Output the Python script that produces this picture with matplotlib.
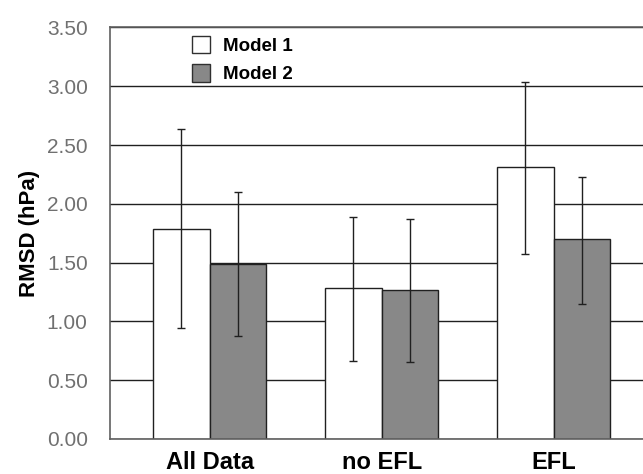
import matplotlib

matplotlib.use("Agg")
import matplotlib.pyplot as plt
import numpy as np
from matplotlib.patches import Patch

# Values.
CATEGORIES = ["All Data", "no EFL", "EFL"]
MODEL1_RMSD = [1.79, 1.28, 2.31]
MODEL1_LOW = [0.94, 0.665, 1.57]
MODEL1_HIGH = [2.64, 1.89, 3.04]
MODEL2_RMSD = [1.49, 1.27, 1.70]
MODEL2_LOW = [0.875, 0.655, 1.15]
MODEL2_HIGH = [2.10, 1.87, 2.23]
Y_TICKS = [0.0, 0.5, 1.0, 1.5, 2.0, 2.5, 3.0, 3.5]

FONT = ["Liberation Sans", "DejaVu Sans"]
plt.rcParams["font.family"] = FONT


def err(vals, low, high):
    v = np.asarray(vals)
    return np.vstack([v - np.asarray(low), np.asarray(high) - v])


fig = plt.figure(figsize=(6.43, 4.74), dpi=100)
ax = fig.add_axes([0.171, 0.074, 0.829, 0.868])

x = np.arange(len(CATEGORIES))
width = 0.33

ax.set_axisbelow(True)
ax.yaxis.grid(True, color="#202020", linewidth=1.0)

ekw = {"elinewidth": 1.0, "capthick": 1.0, "ecolor": "#202020"}
ax.bar(x - width / 2, MODEL1_RMSD, width, color="white", edgecolor="#202020",
       linewidth=1.0, yerr=err(MODEL1_RMSD, MODEL1_LOW, MODEL1_HIGH),
       capsize=3, error_kw=ekw, zorder=2)
ax.bar(x + width / 2, MODEL2_RMSD, width, color="#888888", edgecolor="#202020",
       linewidth=1.0, yerr=err(MODEL2_RMSD, MODEL2_LOW, MODEL2_HIGH),
       capsize=3, error_kw=ekw, zorder=2)

ax.set_xlim(-0.58, 2.52)
ax.set_ylim(0, 3.5)
ax.set_yticks(Y_TICKS)
ax.set_yticklabels([f"{t:.2f}" for t in Y_TICKS], color="#707070", fontsize=15)
ax.set_xticks(x)
ax.set_xticklabels(CATEGORIES, fontsize=17, fontweight="bold")
ax.tick_params(axis="both", length=0)
ax.tick_params(axis="y", pad=16)
ax.tick_params(axis="x", pad=9)
ax.set_ylabel("RMSD (hPa)", fontsize=16, fontweight="bold", labelpad=5)

for side in ("top", "left", "bottom"):
    ax.spines[side].set_color("#606060")
    ax.spines[side].set_linewidth(1.2)
ax.spines["right"].set_visible(False)

handles = [Patch(facecolor="white", edgecolor="#303030", label="Model 1"),
           Patch(facecolor="#888888", edgecolor="#303030", label="Model 2")]
ax.legend(handles=handles, loc="upper left", bbox_to_anchor=(0.138, 1.0),
          frameon=False, prop={"weight": "bold", "size": 13.5},
          handlelength=0.95, handleheight=1.05, handletextpad=0.7,
          labelspacing=0.5, borderaxespad=0.05)

fig.savefig("out.png", dpi=100)
